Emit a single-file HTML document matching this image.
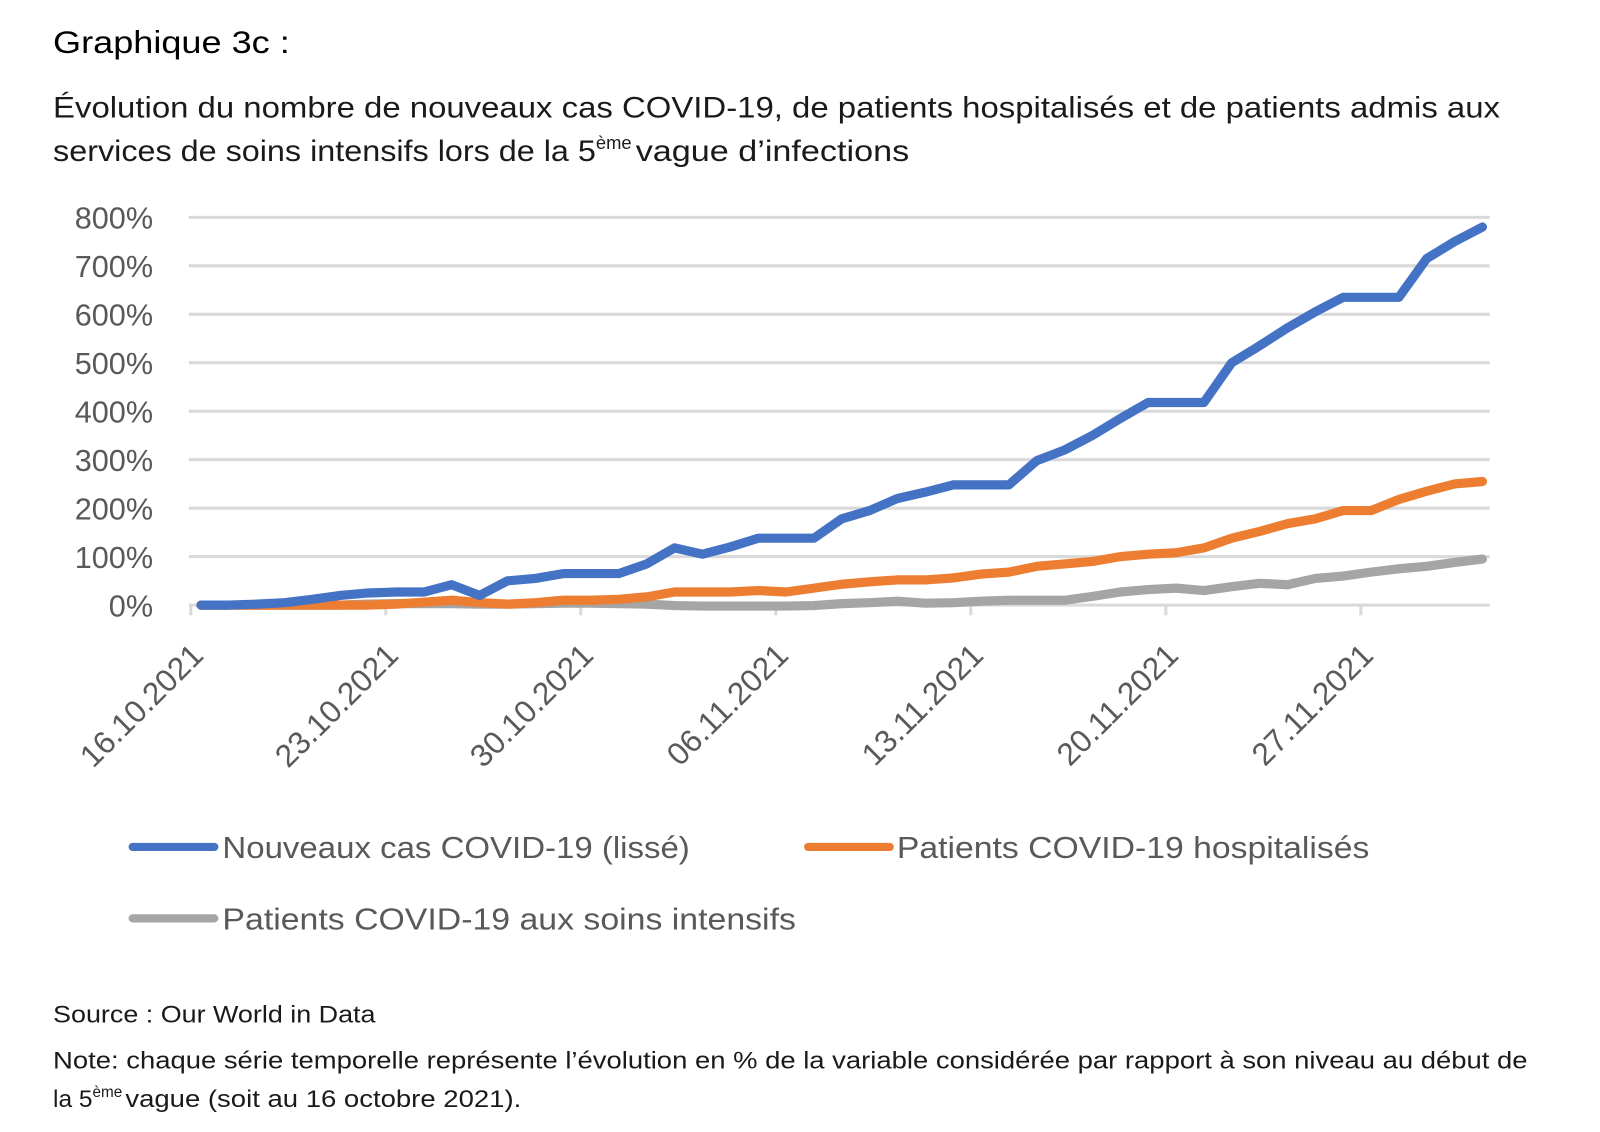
<!DOCTYPE html>
<html><head><meta charset="utf-8"><style>
html,body{margin:0;padding:0;background:#fff;}
svg{display:block;font-family:"Liberation Sans",sans-serif;}
</style></head><body>
<svg id="chart" width="1600" height="1132" viewBox="0 0 1600 1132" xmlns="http://www.w3.org/2000/svg">
<g transform="scale(1.0204)">
<text x="52" y="52" font-size="31" fill="#000" textLength="232" lengthAdjust="spacingAndGlyphs">Graphique 3c :</text>
<text x="52" y="115" font-size="29" fill="#1a1a1a" textLength="1418" lengthAdjust="spacingAndGlyphs">Évolution du nombre de nouveaux cas COVID-19, de patients hospitalisés et de patients admis aux</text>
<text x="52" y="158" font-size="29" fill="#1a1a1a"><tspan textLength="532" lengthAdjust="spacingAndGlyphs">services de soins intensifs lors de la 5</tspan><tspan dy="-12" font-size="18">ème</tspan><tspan dy="12" dx="4" textLength="268" lengthAdjust="spacingAndGlyphs">vague d’infections</tspan></text>
<g id="grid"></g>
<g id="yticks"></g>
<g id="xticks"></g>
<g id="series"></g>
<g>
<g><line x1="130" y1="830" x2="210" y2="830" stroke="#4472C4" stroke-width="8" stroke-linecap="round"/><text x="218" y="841" font-size="30" fill="#595959" textLength="458" lengthAdjust="spacingAndGlyphs">Nouveaux cas COVID-19 (lissé)</text></g>
<g><line x1="792" y1="830" x2="872" y2="830" stroke="#ED7D31" stroke-width="8" stroke-linecap="round"/><text x="879" y="841" font-size="30" fill="#595959" textLength="463" lengthAdjust="spacingAndGlyphs">Patients COVID-19 hospitalisés</text></g>
<g><line x1="130" y1="900" x2="210" y2="900" stroke="#A5A5A5" stroke-width="8" stroke-linecap="round"/><text x="218" y="911" font-size="30" fill="#595959" textLength="562" lengthAdjust="spacingAndGlyphs">Patients COVID-19 aux soins intensifs</text></g>
</g>
<text x="52" y="1002" font-size="24" fill="#1a1a1a" textLength="316" lengthAdjust="spacingAndGlyphs">Source : Our World in Data</text>
<text x="52" y="1047" font-size="24" fill="#1a1a1a" textLength="1445" lengthAdjust="spacingAndGlyphs">Note: chaque série temporelle représente l’évolution en % de la variable considérée par rapport à son niveau au début de</text>
<text x="52" y="1085" font-size="24" fill="#1a1a1a"><tspan>la 5</tspan><tspan dy="-10" font-size="15">ème</tspan><tspan dy="10" dx="3" textLength="388" lengthAdjust="spacingAndGlyphs">vague (soit au 16 octobre 2021).</tspan></text>
</g>
</svg>
<script>
const dateLabels = ["16.10.2021","23.10.2021","30.10.2021","06.11.2021","13.11.2021","20.11.2021","27.11.2021"];
const yTicks = [0,100,200,300,400,500,600,700,800];
const casesSeries = [0,0,2,5,12,20,25,27,27,42,20,50,55,65,65,65,85,118,105,120,138,138,138,178,195,220,233,248,248,248,298,320,350,385,418,418,418,500,535,572,605,635,635,635,715,750,780];
const hospSeries = [0,0,0,0,0,0,0,2,6,10,5,2,5,10,10,12,17,27,27,27,30,27,35,43,48,52,52,56,64,68,80,85,90,100,105,108,118,138,152,168,178,195,195,218,235,250,255];
const icuSeries = [0,0,0,0,0,0,2,3,3,3,2,2,3,4,4,3,2,-1,-2,-2,-2,-2,-1,3,5,8,4,5,8,10,10,10,18,27,32,35,30,38,45,42,55,60,68,75,80,88,95];
const NS="http://www.w3.org/2000/svg";
const x = i => 197 + i*27.3;
const y = v => 593 - v*0.475;
const grid=document.getElementById('grid'), yt=document.getElementById('yticks'), xt=document.getElementById('xticks'), ser=document.getElementById('series');
yTicks.forEach(v=>{
  if(v>0){const l=document.createElementNS(NS,'line');
  l.setAttribute('x1',185);l.setAttribute('x2',1460);l.setAttribute('y1',y(v));l.setAttribute('y2',y(v));
  l.setAttribute('stroke','#D9D9D9');l.setAttribute('stroke-width',3);
  
  
  grid.appendChild(l);}
  const t=document.createElementNS(NS,'text');
  t.setAttribute('x',150);t.setAttribute('y',y(v)+11);t.setAttribute('text-anchor','end');
  t.setAttribute('font-size',30);t.setAttribute('fill','#595959');t.textContent=v+'%';
  
  
  yt.appendChild(t);
});
const ax=document.createElementNS(NS,'line');
ax.setAttribute('x1',185);ax.setAttribute('x2',1460);ax.setAttribute('y1',y(0));ax.setAttribute('y2',y(0));
ax.setAttribute('stroke','#D9D9D9');ax.setAttribute('stroke-width',3);


xt.appendChild(ax);
dateLabels.forEach((d,k)=>{
  const tx=x(7*k)-10;
  const tk=document.createElementNS(NS,'line');
  tk.setAttribute('x1',tx);tk.setAttribute('x2',tx);tk.setAttribute('y1',y(0));tk.setAttribute('y2',y(0)+10);
  tk.setAttribute('stroke','#D9D9D9');tk.setAttribute('stroke-width',3);
  
  
  xt.appendChild(tk);
  const t=document.createElementNS(NS,'text');
  t.setAttribute('transform','translate('+(tx+14)+',644) rotate(-45)');
  t.setAttribute('text-anchor','end');t.setAttribute('font-size',31);t.setAttribute('fill','#595959');
  t.textContent=d;
  
  
  xt.appendChild(t);
});
[[icuSeries,'#A5A5A5','line-icu'],[hospSeries,'#ED7D31','line-hospitalised'],[casesSeries,'#4472C4','line-cases']].forEach(([s,c,n])=>{
  const p=document.createElementNS(NS,'polyline');
  p.setAttribute('points',s.map((v,i)=>x(i)+','+y(v)).join(' '));
  p.setAttribute('fill','none');p.setAttribute('stroke',c);p.setAttribute('stroke-width',9);
  p.setAttribute('stroke-linejoin','round');p.setAttribute('stroke-linecap','round');
  
  
  ser.appendChild(p);
});
</script>
</body></html>
